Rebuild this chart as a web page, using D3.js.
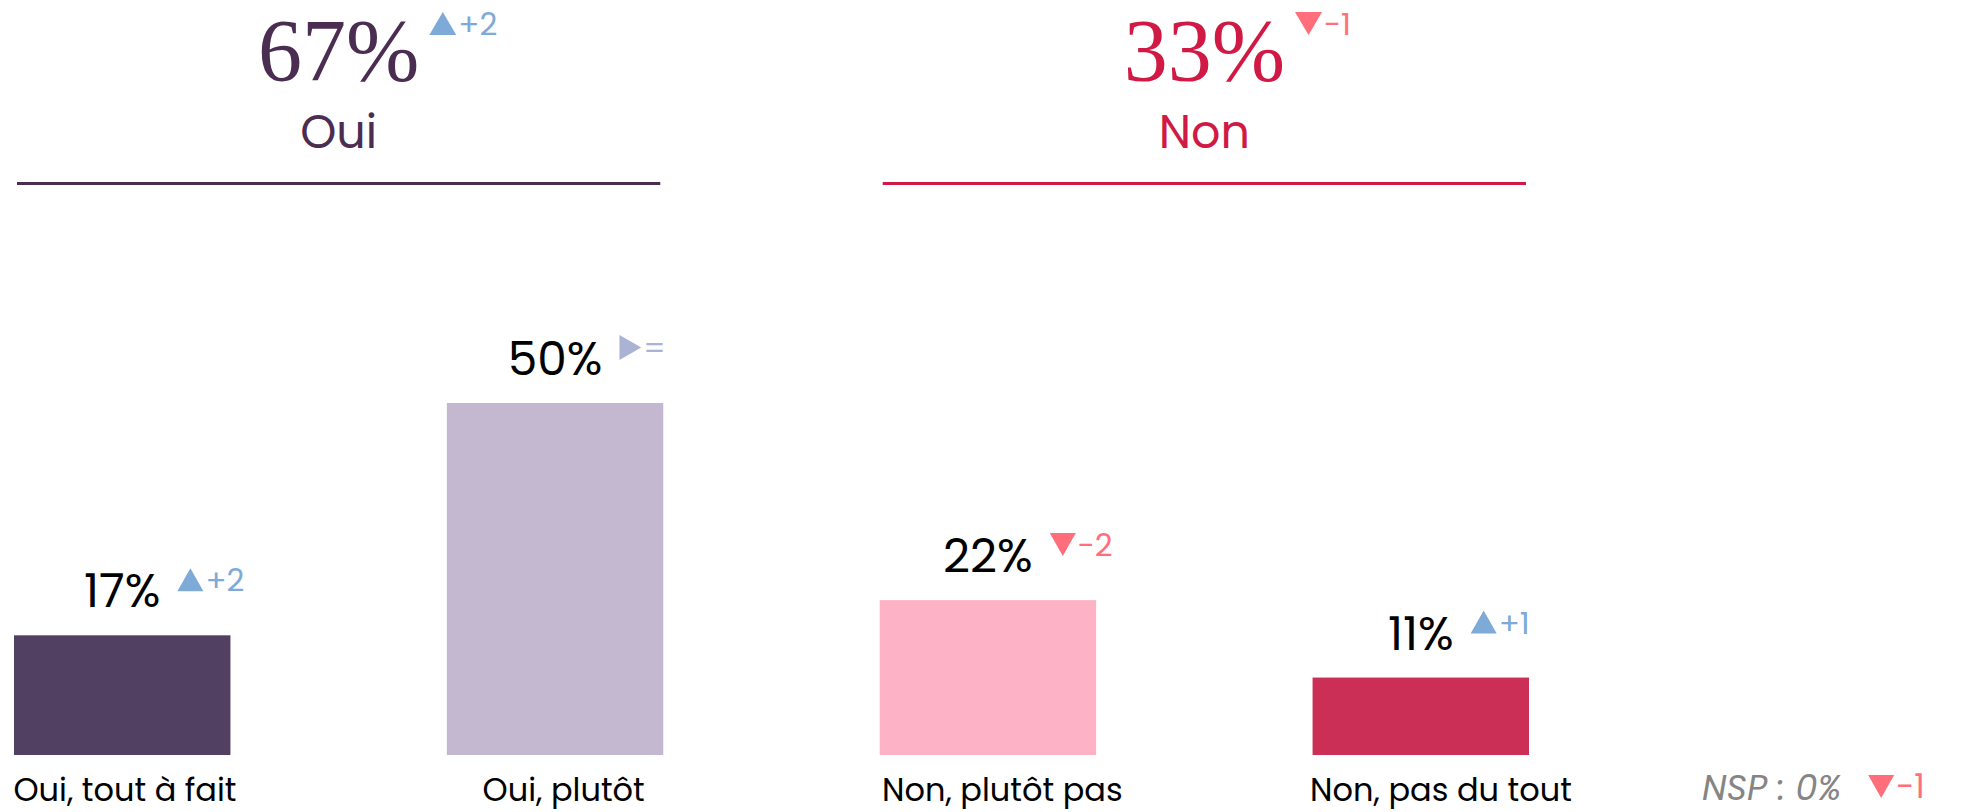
<!DOCTYPE html>
<html><head><meta charset="utf-8">
<script src="https://cdn.jsdelivr.net/npm/d3@7"></script>
<style>
html,body{margin:0;padding:0;background:#fff;}
svg{display:block;}
</style></head><body>
<svg id="chart" width="1966" height="812"></svg>
<script>
// ---- data ----
const categories = ["Oui, tout à fait", "Oui, plutôt", "Non, plutôt pas", "Non, pas du tout"];
const categoryGroups = ["Oui", "Oui", "Non", "Non"];
const values = [17, 50, 22, 11];
const deltas = [2, 0, -2, 1];
const groups = ["Oui", "Non"];
const groupTotals = [67, 33];
const groupDeltas = [2, -1];
const nspLabel = ["NSP"];
const nspValue = [0];
const nspDelta = [-1];

// ---- styles ----
const barColors = ["#514062", "#c3b8d0", "#fdb3c5", "#cb2f56"];
const groupColors = ["#4b2d52", "#d01a45"];
const SANS = "Poppins, Inter, 'Noto Sans', sans-serif";
const SERIF = "'Liberation Serif', 'DejaVu Serif', serif";

const svg = d3.select("#chart");
const x = d3.scaleBand().domain(categories).range([14, 1529]).paddingInner(0.5).paddingOuter(0);
const y = d3.scaleLinear().domain([0, 50]).range([755, 403]);
const labelX = d3.scalePoint().domain(categories).range([125, 1441]);

function deltaStyle(d) {
  if (d > 0) return {color: "#7eaad7", shape: "up", text: "+" + d};
  if (d < 0) return {color: "#ff6e7a", shape: "down", text: "-" + Math.abs(d)};
  return {color: "#aab3d3", shape: "right", text: "="};
}

function drawDelta(parent, x0, base, d, o) {
  const s = deltaStyle(d);
  let pts, w = o.w;
  if (s.shape === "up") pts = [[x0, base], [x0 + w, base], [x0 + w / 2, base - o.h]];
  else if (s.shape === "down") pts = [[x0, base - o.h], [x0 + w, base - o.h], [x0 + w / 2, base]];
  else { w = o.h * 0.95; pts = [[x0, base - o.h - 1], [x0, base + 1], [x0 + w, base - o.h / 2]]; }
  parent.append("path").attr("d", d3.line()(pts) + "Z").attr("fill", s.color);
  parent.append("text").attr("x", x0 + w + o.gap).attr("y", base)
    .style("font-family", SANS).style("font-size", o.fs + "px").attr("fill", s.color).text(s.text);
}

// ---- group headers ----
groups.forEach((gname, i) => {
  const cats = categories.filter((c, j) => categoryGroups[j] === gname);
  const x0 = x(cats[0]), x1 = x(cats[cats.length - 1]) + x.bandwidth();
  const cx = (x0 + x1) / 2;
  const num = svg.append("text").attr("x", cx).attr("y", 80).attr("text-anchor", "middle")
    .style("font-family", SERIF).style("font-size", "88px").attr("fill", groupColors[i])
    .text(groupTotals[i] + "%");
  const bb = num.node().getBBox();
  drawDelta(svg, bb.x + bb.width + 10, 35, groupDeltas[i], {w: 27, h: 23, gap: 2, fs: 31});
  svg.append("text").attr("x", cx).attr("y", 148).attr("text-anchor", "middle")
    .style("font-family", SANS).style("font-size", "46px").attr("fill", groupColors[i]).text(gname);
  svg.append("line").attr("x1", x0 + 3).attr("x2", x1 - 3).attr("y1", 183.5).attr("y2", 183.5)
    .attr("stroke", groupColors[i]).attr("stroke-width", 3);
});

// ---- bars ----
svg.selectAll("rect.bar").data(categories).join("rect").attr("class", "bar")
  .attr("x", d => x(d)).attr("width", x.bandwidth())
  .attr("y", (d, i) => y(values[i])).attr("height", (d, i) => y(0) - y(values[i]))
  .attr("fill", (d, i) => barColors[i]);

// ---- value labels + deltas ----
categories.forEach((c, i) => {
  const cx = x(c) + x.bandwidth() / 2;
  const base = y(values[i]) - 28;
  const t = svg.append("text").attr("x", cx).attr("y", base).attr("text-anchor", "middle")
    .style("font-family", SANS).style("font-size", "47px").attr("fill", "#000").text(values[i] + "%");
  const bb = t.node().getBBox();
  drawDelta(svg, bb.x + bb.width + 17, base - 16, deltas[i], {w: 26, h: 23, gap: 2, fs: 31});
});

// ---- category labels ----
svg.selectAll("text.cat").data(categories).join("text").attr("class", "cat")
  .attr("x", d => labelX(d)).attr("y", 801).attr("text-anchor", "middle")
  .style("font-family", SANS).style("font-size", "32px").attr("fill", "#000").text(d => d);

// ---- NSP ----
const nsp = svg.append("text").attr("x", 1702).attr("y", 800)
  .style("font-family", SANS).style("font-size", "35px").style("font-style", "italic")
  .attr("fill", "#858585").text(nspLabel[0] + " : " + nspValue[0] + "%");
const nb = nsp.node().getBBox();
drawDelta(svg, nb.x + nb.width + 27, 798, nspDelta[0], {w: 26, h: 23, gap: 2, fs: 33});
</script>
</body></html>
